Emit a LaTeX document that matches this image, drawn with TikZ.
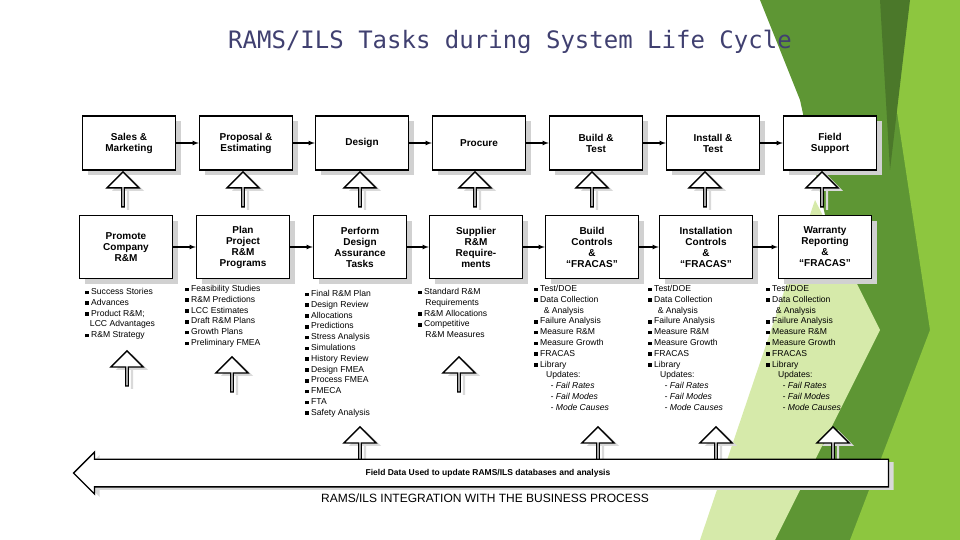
\documentclass[tikz,border=0pt]{standalone}
\usepackage{fontspec}
\setmainfont{Liberation Sans}
\newfontfamily\titlefont{DejaVu Sans Mono}
\usetikzlibrary{shapes,arrows,positioning,shadows}
\def \sq {\rule[0.3pt]{3.6pt}{3.6pt}\ }
\definecolor{olive}{HTML}{5E9634}
\definecolor{limeg}{HTML}{8DC63F}
\definecolor{paleg}{HTML}{D6EAAA}

\begin{document}
\begin{tikzpicture}[x=1pt,y=-1pt,
    task/.style={draw,line width=1.4pt,fill=white,minimum width=93pt,minimum height=54pt,
      align=center,font=\bfseries\fontsize{10}{11}\selectfont,
      drop shadow={shadow xshift=5pt,shadow yshift=-5pt,fill=black!18,opacity=1}},
    act/.style={task,minimum height=63pt},
    up/.style={single arrow,draw,line width=1.3pt,fill=white,shape border rotate=90,
      minimum height=35pt,minimum width=32pt,single arrow head extend=8pt,inner sep=0pt,
      single arrow tip angle=90,
      drop shadow={shadow xshift=5pt,shadow yshift=-3pt,fill=black!15,opacity=1}},
    lst/.style={anchor=north west,align=left,inner sep=0pt,
      font=\fontsize{8.6}{10.8}\selectfont},
    flow/.style={->,>=latex,line width=1.1pt}]
  \useasboundingbox (0,0) rectangle (960,540);
  % background
  \fill[olive] (760,0) -- (960,0) -- (960,540) -- (760,540) -- (850,330) -- (800,100) -- cycle;
  \fill[limeg] (880,0) -- (960,0) -- (960,540) -- (850,540) -- (930,330) -- cycle;
  \fill[paleg] (815,200) -- (880,330) -- (775,540) -- (700,540) -- cycle;
  \fill[olive!80!black] (880,0) -- (910,0) -- (890,170) -- cycle;
  \node[font=\titlefont\fontsize{24}{26}\selectfont,text=blue!25!black!75] (title) at (510,42)
    {RAMS/ILS Tasks during System Life Cycle};
  % top row
  \node[task] (sm) at (129,143) {Sales \&\\Marketing};
  \node[task] (pe) at (246,143) {Proposal \&\\Estimating};
  \node[task] (de) at (362,143) {Design};
  \node[task] (pr) at (479,143) {Procure};
  \node[task] (bt) at (596,143) {Build \&\\Test};
  \node[task] (it) at (713,143) {Install \&\\Test};
  \node[task] (fs) at (830,143) {Field\\Support};
  % second row
  \node[act] (pc) at (126,247) {Promote\\Company\\R\&M};
  \node[act] (pp) at (243,247) {Plan\\Project\\R\&M\\Programs};
  \node[act] (pd) at (360,247) {Perform\\Design\\Assurance\\Tasks};
  \node[act] (sr) at (476,247) {Supplier\\R\&M\\Require-\\ments};
  \node[act] (bc) at (592,247) {Build\\Controls\\\&\\``FRACAS''};
  \node[act] (ic) at (706,247) {Installation\\Controls\\\&\\``FRACAS''};
  \node[act] (wr) at (825,247) {Warranty\\Reporting\\\&\\``FRACAS''};
  \foreach \a/\b in {sm/pe,pe/de,de/pr,pr/bt,bt/it,it/fs,pc/pp,pp/pd,pd/sr,sr/bc,bc/ic,ic/wr}
    \draw[flow] (\a) -- (\b);
  % hollow arrows between rows
  \foreach \n/\x in {ua/123,ub/243,uc/360,ud/475,ue/592,uf/705,ug/822}
    \node[up] (\n) at (\x,190) {};
  % lists
  \node[lst] (la) at (85,288) {\sq Success Stories\\\sq Advances\\\sq Product R\&M;\\\ \ LCC Advantages\\\sq R\&M Strategy};
  \node[lst] (lb) at (185,285) {\sq Feasibility Studies\\\sq R\&M Predictions\\\sq LCC Estimates\\\sq Draft R\&M Plans\\\sq Growth Plans\\\sq Preliminary FMEA};
  \node[lst] (lc) at (305,290) {\sq Final R\&M Plan\\\sq Design Review\\\sq Allocations\\\sq Predictions\\\sq Stress Analysis\\\sq Simulations\\\sq History Review\\\sq Design FMEA\\\sq Process FMEA\\\sq FMECA\\\sq FTA\\\sq Safety Analysis};
  \node[lst] (ld) at (418,288) {\sq Standard R\&M\\\ \ \ Requirements\\\sq R\&M Allocations\\\sq Competitive\\\ \ \ R\&M Measures};
  \foreach \n/\x in {le/534,lf/648,lg/766}
    \node[lst] (\n) at (\x,285) {\sq Test/DOE\\\sq Data Collection\\\ \ \ \ \& Analysis\\\sq Failure Analysis\\\sq Measure R\&M\\\sq Measure Growth\\\sq FRACAS\\\sq Library\\\ \ \ \ \ Updates:\\\ \hspace{14pt}\textit{- Fail Rates}\\\ \hspace{14pt}\textit{- Fail Modes}\\\ \hspace{14pt}\textit{- Mode Causes}};
  % hollow arrows below lists
  \node[up] (va) at (127,369) {};
  \node[up] (vb) at (232,375) {};
  \node[up] (vc) at (360,445) {};
  \node[up] (vd) at (459,375) {};
  \node[up] (ve) at (598,445) {};
  \node[up] (vf) at (716,445) {};
  \node[up] (vg) at (833,445) {};
  % feedback arrow
  \node[single arrow,draw,line width=1.3pt,fill=white,shape border rotate=180,
    minimum height=815pt,minimum width=42pt,single arrow head extend=6pt,inner sep=7pt,
    drop shadow={shadow xshift=5pt,shadow yshift=-3pt,fill=black!15,opacity=1},
    font=\bfseries\fontsize{8.5}{10}\selectfont] (fb) at (488,473)
    {Field Data Used to update RAMS/ILS databases and analysis};
  \node[font=\fontsize{12}{14}\selectfont] (cap) at (485,498)
    {RAMS/ILS INTEGRATION WITH THE BUSINESS PROCESS};
\end{tikzpicture}
\end{document}
